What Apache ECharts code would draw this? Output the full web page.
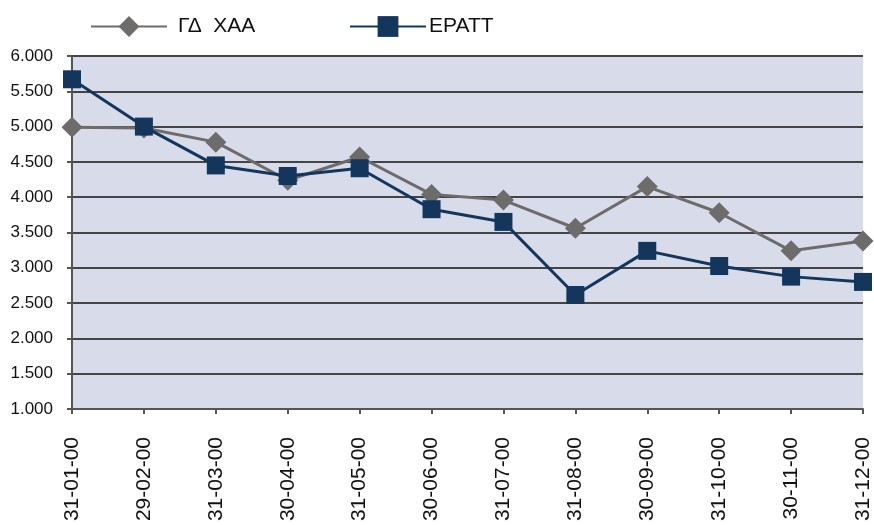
<!DOCTYPE html>
<html>
<head>
<meta charset="utf-8">
<script src="https://cdn.jsdelivr.net/npm/echarts@6/dist/echarts.min.js"></script>
<style>
html,body{margin:0;padding:0;background:#fff;}
#c{width:874px;height:525px;}
</style>
</head>
<body>
<div id="c"></div>
<script>
const categories = ['31-01-00','29-02-00','31-03-00','30-04-00','31-05-00','30-06-00','31-07-00','31-08-00','30-09-00','31-10-00','30-11-00','31-12-00'];
const seriesNames = ['ΓΔ  ΧΑΑ', 'ΕΡΑΤΤ'];
const gdXaa = [4990, 4980, 4780, 4240, 4570, 4040, 3960, 3560, 4150, 3780, 3240, 3380];
const eratt = [5670, 5000, 4450, 4300, 4410, 3830, 3650, 2615, 3240, 3025, 2875, 2800];
const yMin = 1000, yMax = 6000, yStep = 500;

const chart = echarts.init(document.getElementById('c'), null, {renderer:'canvas'});
const font = '"Liberation Sans", Arial, sans-serif';
const legendBase = {
  top: 16, padding: 0, itemWidth: 76, itemHeight: 26
};
chart.setOption({
  animation: false,
  textStyle: {fontFamily: font},
  legend: [
    Object.assign({}, legendBase, {left: 90, data: [seriesNames[0]],
      textStyle: {fontSize: 21, color: '#111', fontFamily: font, padding: [0, 0, 0, 6]}}),
    Object.assign({}, legendBase, {left: 349, data: [seriesNames[1]],
      textStyle: {fontSize: 21, color: '#111', fontFamily: font, padding: [0, 0, 0, -2]}})
  ],
  grid: {left: 72, right: 11, top: 56, bottom: 116, show: true, backgroundColor: '#d8dcea', borderWidth: 0},
  xAxis: {
    type: 'category', data: categories, boundaryGap: false,
    axisLine: {lineStyle: {color: '#555', width: 2}},
    axisTick: {show: true, length: 5, alignWithLabel: true, lineStyle: {color: '#555', width: 2}},
    axisLabel: {rotate: 90, fontSize: 21, color: '#111', margin: 28, fontFamily: font, interval: 0}
  },
  yAxis: {
    type: 'value', min: yMin, max: yMax, interval: yStep,
    axisLine: {show: true, lineStyle: {color: '#555', width: 2}},
    axisTick: {show: true, length: 5, lineStyle: {color: '#555', width: 2}},
    splitLine: {lineStyle: {color: '#444', width: 2}},
    axisLabel: {fontSize: 17, color: '#111', margin: 19, fontFamily: font,
      formatter: v => String(Math.floor(v / 1000)) + '.' + String(v % 1000).padStart(3, '0')}
  },
  series: [
    {name: seriesNames[0], type: 'line', data: gdXaa, symbol: 'diamond', symbolSize: 21,
     lineStyle: {color: '#6e6b6b', width: 3}, itemStyle: {color: '#6e6b6b'}, z: 2},
    {name: seriesNames[1], type: 'line', data: eratt, symbol: 'rect', symbolSize: 18,
     lineStyle: {color: '#14365c', width: 3}, itemStyle: {color: '#14365c'}, z: 3}
  ]
});
</script>
</body>
</html>
